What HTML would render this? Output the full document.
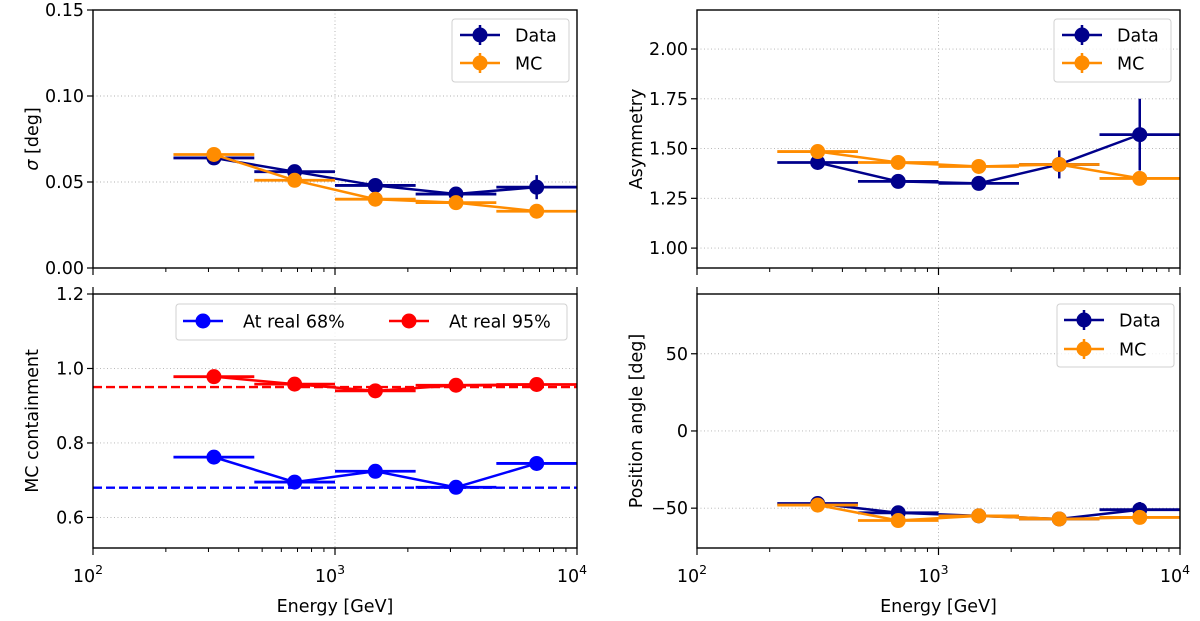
<!DOCTYPE html>
<html><head><meta charset="utf-8"><style>
body{margin:0;background:#fff;}
svg{display:block;font-family:"DejaVu Sans","Liberation Sans",sans-serif;}
</style></head><body>
<svg id="fig" width="1200" height="621" viewBox="0 0 1200 621" xmlns="http://www.w3.org/2000/svg"></svg>
<script>
const binEdges=[215,464,1000,2154,4642,10000];
const energies=[316,681,1468,3162,6813];
const sigmaData=[0.064,0.056,0.048,0.043,0.047];
const sigmaDataErr=[0.002,0.002,0.002,0.002,0.007];
const sigmaMC=[0.066,0.051,0.040,0.038,0.033];
const asymData=[1.43,1.335,1.325,1.42,1.57];
const asymDataErr=[0.02,0.02,0.02,0.07,0.18];
const asymMC=[1.485,1.43,1.41,1.42,1.35];
const cont68=[0.762,0.695,0.724,0.681,0.745];
const cont95=[0.978,0.958,0.940,0.955,0.957];
const paData=[-47,-53,-55,-57,-51];
const paDataErr=[1,1,1,1,5];
const paMC=[-48,-58,-55,-57,-56];
const xTickLabels=["10","10","10"];
const xTickExps=["2","3","4"];

const NS="http://www.w3.org/2000/svg";
const svg=document.getElementById('fig');
function el(tag,attrs,parent,txt){const e=document.createElementNS(NS,tag);for(const k in attrs)e.setAttribute(k,attrs[k]);if(txt!==undefined)e.textContent=txt;(parent||svg).appendChild(e);return e;}
const NAVY='#00008b',ORANGE='#ff8c00',BLUE='#0000ff',RED='#ff0000';
const FS=17.5;

function makePanel(o){
  const g=el('g',{});
  
  
  const X=v=>o.x0+(Math.log10(v)-2)/2*(o.x1-o.x0);
  const Y=v=>o.y1-(v-o.ymin)/(o.ymax-o.ymin)*(o.y1-o.y0);
  o.yticks.forEach(t=>{const y=Y(t);if(y>o.y0+1&&y<o.y1-1){const l=el('line',{x1:o.x0,x2:o.x1,y1:y,y2:y,stroke:'#b0b0b0','stroke-width':0.9,'stroke-dasharray':'1,2.5'},g);}});
  el('line',{x1:X(1000),x2:X(1000),y1:o.y0,y2:o.y1,stroke:'#b0b0b0','stroke-width':0.9,'stroke-dasharray':'1,2.5'},g);
  o.yticks.forEach((t,i)=>{const y=Y(t);el('line',{x1:o.x0-6,x2:o.x0,y1:y,y2:y,stroke:'#000','stroke-width':1.2},g);
    const tl=el('text',{x:o.x0-9,y:y+6,'text-anchor':'end','font-size':FS},g,o.ylabels[i]);});
  for(let d=2;d<=4;d++){const x=X(Math.pow(10,d));el('line',{x1:x,x2:x,y1:o.y1,y2:o.y1+7,stroke:'#000','stroke-width':1.2},g);
    if(o.topTick)el('line',{x1:x,x2:x,y1:o.y0-7,y2:o.y0,stroke:'#000','stroke-width':1.2},g);
    if(d<4)for(let m=2;m<=9;m++){const xm=X(m*Math.pow(10,d));el('line',{x1:xm,x2:xm,y1:o.y1,y2:o.y1+4,stroke:'#000','stroke-width':1},g);}
    if(o.xlabels){const t=el('text',{x:x-5,y:o.y1+34,'text-anchor':'middle','font-size':FS},g,xTickLabels[d-2]);
      
      el('tspan',{dy:-8,'font-size':12.5},t,xTickExps[d-2]);}}
  if(o.xlabels){const t=el('text',{x:(o.x0+o.x1)/2,y:o.y1+64,'text-anchor':'middle','font-size':FS},g,'Energy [GeV]');}
  const yt=el('text',{transform:`translate(${o.x0-o.titleOff},${(o.y0+o.y1)/2}) rotate(-90)`,'text-anchor':'middle','font-size':FS},g);
  
  if(o.sigma){el('tspan',{'font-style':'italic'},yt,'σ');el('tspan',{},yt,' [deg]');}else yt.textContent=o.ytitle;
  const cid='c'+o.name;const cp=el('clipPath',{id:cid},g);el('rect',{x:o.x0,y:o.y0,width:o.x1-o.x0,height:o.y1-o.y0},cp);
  const dg=el('g',{'clip-path':`url(#${cid})`},g);
  (o.hlines||[]).forEach(h=>{el('line',{x1:o.x0,x2:o.x1,y1:Y(h.v),y2:Y(h.v),stroke:h.c,'stroke-width':2.4,'stroke-dasharray':'9,4'},dg);});
  o.series.forEach(s=>{
    const sg=el('g',{},dg);
    el('polyline',{points:energies.map((e,i)=>X(e)+','+Y(s.vals[i])).join(' '),fill:'none',stroke:s.c,'stroke-width':2.5},sg);
    energies.forEach((e,i)=>{
      el('line',{x1:X(binEdges[i]),x2:X(binEdges[i+1]),y1:Y(s.vals[i]),y2:Y(s.vals[i]),stroke:s.c,'stroke-width':2.8},sg);
      if(s.err){el('line',{x1:X(e),x2:X(e),y1:Y(s.vals[i]-s.err[i]),y2:Y(s.vals[i]+s.err[i]),stroke:s.c,'stroke-width':2.5},sg);}
      const c=el('circle',{cx:X(e),cy:Y(s.vals[i]),r:7.5,fill:s.c},sg);
    });
  });
  el('rect',{x:o.x0,y:o.y0,width:o.x1-o.x0,height:o.y1-o.y0,fill:'none',stroke:'#000','stroke-width':1.4},g);
  const L=o.legend;const lg=el('g',{},g);
  el('rect',{x:L.x,y:L.y,width:L.w,height:L.h,rx:3,fill:'#fff','fill-opacity':0.8,stroke:'#d0d0d0'},lg);
  L.items.forEach(it=>{const ig=el('g',{},lg);
    el('line',{x1:it.x,x2:it.x+40,y1:it.y,y2:it.y,stroke:it.c,'stroke-width':2.5},ig);
    if(it.err)el('line',{x1:it.x+20,x2:it.x+20,y1:it.y-10,y2:it.y+10,stroke:it.c,'stroke-width':2.5},ig);
    el('circle',{cx:it.x+20,cy:it.y,r:7.5,fill:it.c},ig);
    el('text',{x:it.x+it.tx,y:it.y+6.5,'font-size':FS},ig,it.t);});
}
const LX0=93,LX1=577,RX0=697,RX1=1180;
makePanel({name:'sigma-panel',x0:LX0,x1:LX1,y0:10,y1:268,ymin:0,ymax:0.15,yticks:[0,0.05,0.1,0.15],ylabels:['0.00','0.05','0.10','0.15'],sigma:true,titleOff:55,
  series:[{name:'sigma-data',c:NAVY,vals:sigmaData,err:sigmaDataErr},{name:'sigma-mc',c:ORANGE,vals:sigmaMC,err:sigmaData.map(()=>0.001)}],
  legend:{x:452,y:19,w:117,h:63,items:[{x:460,y:35,c:NAVY,t:'Data',err:true,tx:55},{x:460,y:63,c:ORANGE,t:'MC',err:true,tx:55}]}});
makePanel({name:'asymmetry-panel',x0:RX0,x1:RX1,y0:10,y1:268,ymin:0.9,ymax:2.196,yticks:[1,1.25,1.5,1.75,2],ylabels:['1.00','1.25','1.50','1.75','2.00'],ytitle:'Asymmetry',titleOff:55,
  series:[{name:'asymmetry-data',c:NAVY,vals:asymData,err:asymDataErr},{name:'asymmetry-mc',c:ORANGE,vals:asymMC,err:asymMC.map(()=>0.01)}],
  legend:{x:1054,y:19,w:117,h:63,items:[{x:1062,y:35,c:NAVY,t:'Data',err:true,tx:55},{x:1062,y:63,c:ORANGE,t:'MC',err:true,tx:55}]}});
makePanel({name:'containment-panel',x0:LX0,x1:LX1,y0:294,y1:548,ymin:0.518,ymax:1.2,yticks:[0.6,0.8,1.0,1.2],ylabels:['0.6','0.8','1.0','1.2'],ytitle:'MC containment',xlabels:true,topTick:true,titleOff:55,
  hlines:[{v:0.68,c:BLUE},{v:0.95,c:RED}],
  series:[{name:'containment-68',c:BLUE,vals:cont68},{name:'containment-95',c:RED,vals:cont95}],
  legend:{x:176,y:304,w:391,h:36,items:[{x:183,y:321,c:BLUE,t:'At real 68%',tx:60},{x:389,y:321,c:RED,t:'At real 95%',tx:60}]}});
makePanel({name:'position-angle-panel',x0:RX0,x1:RX1,y0:294,y1:548,ymin:-75.8,ymax:88.7,yticks:[-50,0,50],ylabels:['−50','0','50'],ytitle:'Position angle [deg]',xlabels:true,topTick:true,titleOff:55,
  series:[{name:'position-angle-data',c:NAVY,vals:paData,err:paDataErr},{name:'position-angle-mc',c:ORANGE,vals:paMC,err:paMC.map(()=>1)}],
  legend:{x:1057,y:304,w:117,h:63,items:[{x:1064,y:320,c:NAVY,t:'Data',err:true,tx:55},{x:1064,y:349,c:ORANGE,t:'MC',err:true,tx:55}]}});
</script>
</body></html>
